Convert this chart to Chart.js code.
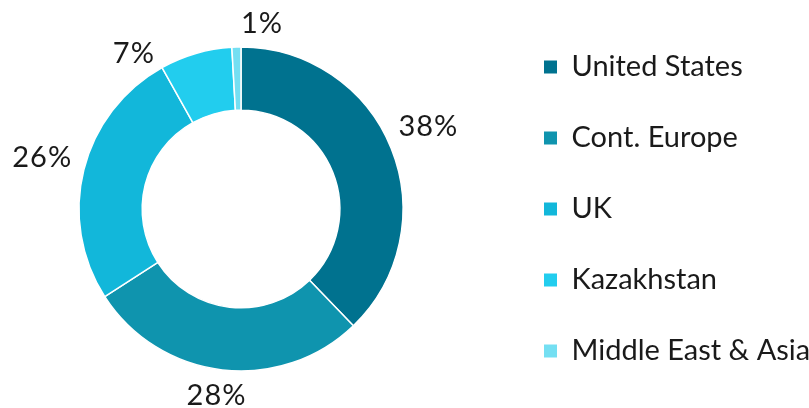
<!DOCTYPE html>
<html>
<head>
<meta charset="utf-8">
<script src="https://cdn.jsdelivr.net/npm/chart.js@4/dist/chart.umd.min.js"></script>
<style>
  html, body { margin: 0; padding: 0; background: #ffffff; overflow: hidden; width: 809px; height: 408px; }
  #wrap { position: absolute; left: -20px; top: 0; width: 829px; height: 410px; }
  canvas { display: block; }
</style>
</head>
<body>
<div id="wrap"><canvas id="c" width="829" height="410"></canvas></div>
<script>
// ---- data ----
const categories = ['United States', 'Cont. Europe', 'UK', 'Kazakhstan', 'Middle East & Asia'];
const shares = [37.8, 28.1, 26.0, 7.2, 0.9];
const colors = ['#00728F', '#0F94AE', '#12B7DA', '#22CDEE', '#74DFF2'];
// label angle nudges (degrees) to mimic best-fit placement
const labelNudge = [-2, 1, 0.6, -18.4, 7.9];

const labelPlugin = {
  id: 'outsideLabels',
  afterDatasetsDraw(chart) {
    const ctx = chart.ctx;
    const meta = chart.getDatasetMeta(0);
    ctx.save();
    ctx.font = '29px Lato';
    ctx.letterSpacing = '1px';
    ctx.fillStyle = '#1a1a1a';
    ctx.textAlign = 'center';
    ctx.textBaseline = 'middle';
    meta.data.forEach((arc, i) => {
      const p = arc.getProps(['x', 'y', 'startAngle', 'endAngle', 'outerRadius'], true);
      const mid = (p.startAngle + p.endAngle) / 2 + labelNudge[i] * Math.PI / 180;
      const dx = Math.cos(mid), dy = Math.sin(mid);
      const text = Math.round(shares[i]) + '%';
      const w = ctx.measureText(text).width;
      const h = 24;
      const r = p.outerRadius + 13;
      const t = Math.min(Math.abs(dx) > 1e-6 ? (w / 2) / Math.abs(dx) : 1e9,
                         Math.abs(dy) > 1e-6 ? (h / 2) / Math.abs(dy) : 1e9);
      const x = p.x + dx * (r + t);
      const y = p.y + dy * (r + t);
      ctx.fillText(text, x + 0.5, y + 1);
    });
    ctx.restore();
  }
};

new Chart(document.getElementById('c'), {
  type: 'doughnut',
  data: {
    labels: categories,
    datasets: [{
      data: shares,
      backgroundColor: colors,
      borderColor: '#ffffff',
      borderWidth: 1.5,
      hoverOffset: 0
    }]
  },
  options: {
    responsive: false,
    animation: false,
    radius: 162,
    cutout: '61%',
    layout: { padding: { top: 8, left: 0, right: 0, bottom: 0 } },
    plugins: {
      tooltip: { enabled: false },
      legend: {
        position: 'right',
        align: 'center',
        maxWidth: 307,
        labels: {
          boxWidth: 13,
          boxHeight: 13,
          padding: 42,
          color: '#1a1a1a',
          font: { family: 'Lato', size: 29 },
          generateLabels(chart) {
            const items = Chart.overrides.doughnut.plugins.legend.labels.generateLabels(chart);
            return items.map(it => Object.assign(it, { lineWidth: 0, strokeStyle: 'rgba(0,0,0,0)' }));
          }
        }
      }
    }
  },
  plugins: [labelPlugin]
});
</script>
</body>
</html>
